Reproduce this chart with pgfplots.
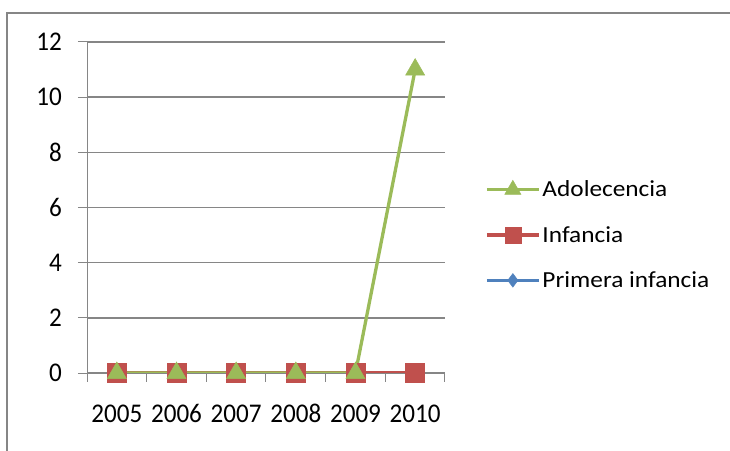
\documentclass[border=0pt]{standalone}
\usepackage{fontspec}
\setmainfont{Carlito}[FakeStretch=1.1]
\newfontfamily\tickfamily{Carlito}[FakeStretch=0.93]
\usepackage{pgfplots}
\pgfplotsset{compat=1.18}
\definecolor{xlgreen}{RGB}{155,187,89}
\definecolor{xlred}{RGB}{192,80,77}
\definecolor{xlblue}{RGB}{79,129,189}
\definecolor{gridgray}{RGB}{134,134,134}
\newcommand{\chartfont}{\fontsize{23bp}{27bp}\selectfont}
\newcommand{\tickfont}{\tickfamily\fontsize{27bp}{30bp}\selectfont}
\begin{document}
\begin{tikzpicture}
\useasboundingbox (0bp,0bp) rectangle (730bp,451bp);
% outer chart frame
\draw[gridgray, line width=2bp] (7bp,-5bp) -- (7bp,438bp) -- (740bp,438bp);
\begin{axis}[
    at={(87bp,78bp)}, anchor=south west,
    scale only axis,
    width=358bp, height=331bp,
    xmin=0, xmax=6, ymin=0, ymax=12,
    axis x line*=bottom, axis y line*=left,
    axis line style={gridgray, line width=1bp},
    ytick={0,2,...,12},
    ymajorgrids,
    grid style={gridgray, line width=1.6bp},
    xtick={0,1,...,6},
    xticklabels={,,,,,,},
    extra x ticks={0.5,1.5,2.5,3.5,4.5,5.5},
    extra x tick labels={2005,2006,2007,2008,2009,2010},
    extra x tick style={major tick length=0pt, grid=none},
    major tick length=9bp,
    tick align=outside,
    tick style={gridgray, line width=1bp},
    /pgf/number format/assume math mode=true,
    tick label style={font=\tickfont, inner sep=0pt},
    yticklabel style={anchor=east, xshift=-16bp, font=\tickfont},
    xticklabel style={anchor=base, yshift=-49bp, font=\tickfont},
    legend style={at={(1,0.417)}, anchor=west, xshift=40bp, draw=none, fill=none,
        inner sep=0pt, row sep=24bp, cells={anchor=west}, font=\chartfont},
    legend image code/.code={%
        \draw[mark repeat=2, mark phase=2, mark size=0.85\pgfplotmarksize]
        plot coordinates {(0bp,0bp) (26bp,0bp) (52bp,0bp)};},
    reverse legend,
]
\addplot[xlblue, line width=3.3bp, mark=diamond*, mark size=8bp,
    mark options={solid, line width=0.5bp}] coordinates {
    (0.5,0) (1.5,0) (2.5,0) (3.5,0) (4.5,0) (5.5,0)
};
\addplot[xlred, line width=3.3bp, mark=square*, mark size=9.5bp,
    mark options={solid, line width=0.5bp}] coordinates {
    (0.5,0) (1.5,0) (2.5,0) (3.5,0) (4.5,0) (5.5,0)
};
\addplot[xlgreen, line width=3.3bp, mark=triangle*, mark size=11bp,
    mark options={solid, line width=0.5bp}] coordinates {
    (0.5,0) (1.5,0) (2.5,0) (3.5,0) (4.5,0) (5.5,11)
};
\legend{Primera infancia, Infancia, Adolecencia}
\end{axis}
\end{tikzpicture}
\end{document}
